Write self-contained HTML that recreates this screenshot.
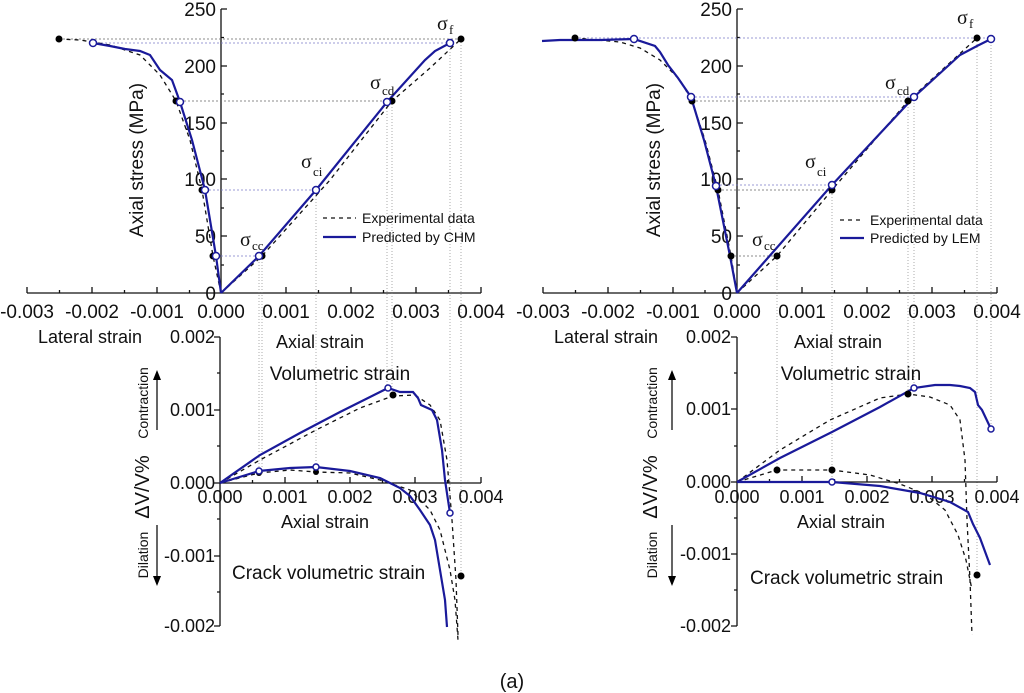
<!DOCTYPE html>
<html><head><meta charset="utf-8"><style>
html,body{margin:0;padding:0;background:#fff}
svg{display:block}
text{font-family:"Liberation Sans",sans-serif;fill:#111}
.t{font-size:18px}
.s{font-family:"Liberation Serif",serif;font-size:20px}
.sub{font-family:"Liberation Serif",serif;font-size:13px}
.ax{stroke:#111;stroke-width:1.3;fill:none}
.b{stroke:#1a1a9a;stroke-width:2.2;fill:none}
.d{stroke:#111;stroke-width:1.3;stroke-dasharray:4 4;fill:none}
.h{stroke:#666;stroke-width:0.8;stroke-dasharray:2 2;fill:none}
.hb{stroke:#7b7bc8;stroke-width:0.8;stroke-dasharray:2 2;fill:none}
.v{stroke:#888;stroke-width:0.7;stroke-dasharray:1 2;fill:none}
.o{fill:#fff;stroke:#1a1a9a;stroke-width:1.5}
.f{fill:#000}
</style></head><body>
<svg width="1024" height="693" viewBox="0 0 1024 693" xmlns="http://www.w3.org/2000/svg">
<!-- ===== LEFT TOP ===== -->
<g>
<line class="ax" x1="27" y1="293" x2="481" y2="293"/>
<line class="ax" x1="221" y1="9" x2="221" y2="293"/>
<path class="ax" d="M27 293v-6M59.5 293v-3M92 293v-6M124.5 293v-3M157 293v-6M189.5 293v-3M286 293v-6M318.5 293v-3M351 293v-6M383.5 293v-3M416 293v-6M448.5 293v-3M481 293v-6"/>
<path class="ax" d="M221 9h6M221 37.5h3M221 66h6M221 94h3M221 123h6M221 151h3M221 179h6M221 208h3M221 236h6M221 265h3"/>
<g class="t" text-anchor="end" style="font-size:19px">
<text x="216" y="16">250</text><text x="216" y="73">200</text><text x="216" y="130">150</text><text x="216" y="186">100</text><text x="216" y="243">50</text><text x="216" y="300">0</text>
</g>
<g class="t" text-anchor="middle" style="font-size:19px">
<text x="27" y="318">-0.003</text><text x="92" y="318">-0.002</text><text x="157" y="318">-0.001</text><text x="221" y="318">0.000</text><text x="286" y="318">0.001</text><text x="351" y="318">0.002</text><text x="416" y="318">0.003</text><text x="481" y="318">0.004</text>
</g>
<text class="t" x="143" y="160" text-anchor="middle" transform="rotate(-90 143 160)" style="font-size:19px">Axial stress (MPa)</text>
<text class="t" x="38" y="343">Lateral strain</text>
<text class="t" x="320" y="348" text-anchor="middle">Axial strain</text>
<line class="h" x1="59" y1="39" x2="461" y2="39"/>
<line class="hb" x1="93" y1="43" x2="450" y2="43"/>
<line class="h" x1="176" y1="101" x2="392" y2="101"/>
<line class="hb" x1="205" y1="190" x2="316" y2="190"/>
<line class="hb" x1="213" y1="256" x2="262" y2="256"/>
<line class="v" x1="259" y1="256" x2="259" y2="471"/>
<line class="v" x1="262" y1="256" x2="262" y2="473"/>
<line class="v" x1="316" y1="190" x2="316" y2="467"/>
<line class="v" x1="387" y1="102" x2="387" y2="388"/>
<line class="v" x1="392" y1="101" x2="392" y2="396"/>
<line class="v" x1="450" y1="43" x2="450" y2="513"/>
<line class="v" x1="461" y1="39" x2="461" y2="576"/>
<path class="d" d="M221 293L213 256L202 190L190 140L176 101L160 75L140 55L110 45L80 40L59 39"/>
<path class="d" d="M221 293L262 256L330 180L392 101L430 68L461 39"/>
<path class="b" d="M221 293L216 256L205 190L192 140L180 102L172 80L160 70L150 55L140 51L125 49L110 46L93 43"/>
<path class="b" d="M221 293L259 256L316 190L387 102L425 60L435 51L450 43"/>
<circle class="f" cx="59" cy="39" r="3.5"/><circle class="f" cx="176" cy="101" r="3.5"/><circle class="f" cx="202" cy="190" r="3.5"/><circle class="f" cx="213" cy="256" r="3.5"/>
<circle class="f" cx="262" cy="256" r="3.5"/><circle class="f" cx="392" cy="101" r="3.5"/><circle class="f" cx="461" cy="39" r="3.5"/>
<circle class="o" cx="93" cy="43" r="3.5"/><circle class="o" cx="180" cy="102" r="3.5"/><circle class="o" cx="205" cy="190" r="3.5"/><circle class="o" cx="216" cy="256" r="3.5"/>
<circle class="o" cx="259" cy="256" r="3.5"/><circle class="o" cx="316" cy="190" r="3.5"/><circle class="o" cx="387" cy="102" r="3.5"/><circle class="o" cx="450" cy="43" r="3.5"/>
<text class="s" x="437" y="30">σ</text><text class="sub" x="449" y="34">f</text>
<text class="s" x="370" y="89">σ</text><text class="sub" x="382" y="95">cd</text>
<text class="s" x="301" y="168">σ</text><text class="sub" x="313" y="176">ci</text>
<text class="s" x="240" y="246">σ</text><text class="sub" x="252" y="250">cc</text>
<line class="d" x1="323" y1="218" x2="356" y2="218"/>
<text class="t" x="362" y="223" style="font-size:14px">Experimental data</text>
<line class="b" x1="323" y1="237" x2="356" y2="237"/>
<text class="t" x="362" y="242" style="font-size:14px">Predicted by CHM</text>
</g>
<!-- ===== LEFT BOTTOM ===== -->
<g>
<line class="ax" x1="220" y1="337" x2="220" y2="626"/>
<line class="ax" x1="220" y1="483" x2="481" y2="483"/>
<path class="ax" d="M220 337h-6M220 373h-3M220 410h-6M220 446h-3M220 483h-6M220 519h-3M220 556h-6M220 592h-3M220 626h-6"/>
<path class="ax" d="M252.5 483v-3M285 483v-6M317.5 483v-3M350 483v-6M382.5 483v-3M415 483v-6M447.5 483v-3M481 483v-6"/>
<g class="t" text-anchor="end">
<text x="215" y="343">0.002</text><text x="215" y="416">0.001</text><text x="215" y="489">0.000</text><text x="215" y="562">-0.001</text><text x="215" y="632">-0.002</text>
</g>
<g class="t" text-anchor="middle">
<text x="220" y="503">0.000</text><text x="285" y="503">0.001</text><text x="350" y="503">0.002</text><text x="415" y="503">0.003</text><text x="481" y="503">0.004</text>
</g>
<text class="t" x="325" y="528" text-anchor="middle">Axial strain</text>
<text class="t" x="340" y="380" text-anchor="middle" style="font-size:19px">Volumetric strain</text>
<text class="t" x="232" y="579" style="font-size:19px">Crack volumetric strain</text>
<text class="t" x="149" y="487" text-anchor="middle" transform="rotate(-90 149 487)" style="font-size:20px">ΔV/V%</text>
<text class="t" x="148" y="403" text-anchor="middle" transform="rotate(-90 148 403)" style="font-size:14px">Contraction</text>
<text class="t" x="148" y="555" text-anchor="middle" transform="rotate(-90 148 555)" style="font-size:14px">Dilation</text>
<path class="ax" d="M157 430V378"/><path d="M153 380L157 370L161 380Z"/>
<path class="ax" d="M157 525V578"/><path d="M153 576L157 586L161 576Z"/>
<path class="d" d="M220 483L260 460L316 430L360 408L393 396L415 395L430 405L440 420L447 460L452 520L456 580L458 635"/>
<path class="b" d="M220 483L260 455L300 433L340 412L370 397L388 388L400 392L413 392L418 398L421 405L432 410L437 420L442 450L445 480L448 500L450 513"/>
<path class="d" d="M220 483L259 473L290 470L316 472L350 473L380 480L410 490L430 510L440 530L450 570L455 600L458 640"/>
<path class="b" d="M220 483L259 471L290 468L316 467L350 471L380 478L400 488L410 496L420 510L430 525L435 540L440 570L445 600L447 627"/>
<circle class="f" cx="393" cy="395" r="3.5"/><circle class="f" cx="461" cy="576" r="3.5"/><circle class="f" cx="316" cy="472" r="3"/><circle class="f" cx="259" cy="473" r="3"/>
<circle class="o" cx="388" cy="388" r="3"/><circle class="o" cx="450" cy="513" r="3"/><circle class="o" cx="259" cy="471" r="3"/><circle class="o" cx="316" cy="467" r="3"/>
</g>
<!-- ===== RIGHT TOP ===== -->
<g>
<line class="ax" x1="543" y1="293" x2="997" y2="293"/>
<line class="ax" x1="737" y1="9" x2="737" y2="293"/>
<path class="ax" d="M543 293v-6M575.5 293v-3M608 293v-6M640.5 293v-3M673 293v-6M705 293v-3M802 293v-6M834.5 293v-3M867 293v-6M899.5 293v-3M932 293v-6M964.5 293v-3M997 293v-6"/>
<path class="ax" d="M737 9h6M737 37.5h3M737 66h6M737 94h3M737 123h6M737 151h3M737 179h6M737 208h3M737 236h6M737 265h3"/>
<g class="t" text-anchor="end" style="font-size:19px">
<text x="732" y="16">250</text><text x="732" y="73">200</text><text x="732" y="130">150</text><text x="732" y="186">100</text><text x="732" y="243">50</text><text x="732" y="300">0</text>
</g>
<g class="t" text-anchor="middle" style="font-size:19px">
<text x="543" y="318">-0.003</text><text x="608" y="318">-0.002</text><text x="673" y="318">-0.001</text><text x="737" y="318">0.000</text><text x="802" y="318">0.001</text><text x="867" y="318">0.002</text><text x="932" y="318">0.003</text><text x="997" y="318">0.004</text>
</g>
<text class="t" x="660" y="160" text-anchor="middle" transform="rotate(-90 660 160)" style="font-size:19px">Axial stress (MPa)</text>
<text class="t" x="554" y="343">Lateral strain</text>
<text class="t" x="838" y="348" text-anchor="middle">Axial strain</text>
<line class="hb" x1="575" y1="38" x2="991" y2="38"/>
<line class="hb" x1="691" y1="97" x2="914" y2="97"/>
<line class="h" x1="692" y1="101" x2="908" y2="101"/>
<line class="hb" x1="716" y1="185" x2="832" y2="185"/>
<line class="h" x1="718" y1="190" x2="832" y2="190"/>
<line class="h" x1="731" y1="256" x2="777" y2="256"/>
<line class="v" x1="777" y1="256" x2="777" y2="470"/>
<line class="v" x1="832" y1="185" x2="832" y2="482"/>
<line class="v" x1="908" y1="101" x2="908" y2="394"/>
<line class="v" x1="914" y1="97" x2="914" y2="388"/>
<line class="v" x1="977" y1="38" x2="977" y2="575"/>
<line class="v" x1="991" y1="39" x2="991" y2="429"/>
<path class="d" d="M737 293L731 256L718 190L705 140L692 101L680 80L660 60L640 48L620 42L575 38"/>
<path class="d" d="M737 293L777 256L832 190L908 101L977 38"/>
<path class="b" d="M737 293L730 256L716 186L704 140L691 97L678 78L668 65L660 52L655 46L634 39L600 40L560 40L542 41"/>
<path class="b" d="M737 293L832 185L914 97L960 55L977 46L991 39"/>
<circle class="f" cx="575" cy="38" r="3.5"/><circle class="f" cx="692" cy="101" r="3.5"/><circle class="f" cx="718" cy="190" r="3.5"/><circle class="f" cx="731" cy="256" r="3.5"/>
<circle class="f" cx="777" cy="256" r="3.5"/><circle class="f" cx="832" cy="190" r="3.5"/><circle class="f" cx="908" cy="101" r="3.5"/><circle class="f" cx="977" cy="38" r="3.5"/>
<circle class="o" cx="634" cy="39" r="3.5"/><circle class="o" cx="691" cy="97" r="3.5"/><circle class="o" cx="716" cy="186" r="3.5"/>
<circle class="o" cx="832" cy="185" r="3.5"/><circle class="o" cx="914" cy="97" r="3.5"/><circle class="o" cx="991" cy="39" r="3.5"/>
<text class="s" x="957" y="24">σ</text><text class="sub" x="969" y="28">f</text>
<text class="s" x="885" y="89">σ</text><text class="sub" x="897" y="95">cd</text>
<text class="s" x="805" y="168">σ</text><text class="sub" x="817" y="176">ci</text>
<text class="s" x="752" y="246">σ</text><text class="sub" x="764" y="250">cc</text>
<line class="d" x1="840" y1="220" x2="860" y2="220"/>
<text class="t" x="870" y="225" style="font-size:14px">Experimental data</text>
<line class="b" x1="840" y1="238" x2="864" y2="238"/>
<text class="t" x="870" y="243" style="font-size:14px">Predicted by LEM</text>
</g>
<!-- ===== RIGHT BOTTOM ===== -->
<g>
<line class="ax" x1="737" y1="337" x2="737" y2="626"/>
<line class="ax" x1="737" y1="482" x2="997" y2="482"/>
<path class="ax" d="M737 337h-6M737 373h-3M737 409h-6M737 446h-3M737 482h-6M737 518h-3M737 554h-6M737 590h-3M737 626h-6"/>
<path class="ax" d="M769.5 482v-3M802 482v-6M834.5 482v-3M867 482v-6M899.5 482v-3M932 482v-6M964.5 482v-3M997 482v-6"/>
<g class="t" text-anchor="end">
<text x="731" y="343">0.002</text><text x="731" y="415">0.001</text><text x="731" y="488">0.000</text><text x="731" y="560">-0.001</text><text x="731" y="632">-0.002</text>
</g>
<g class="t" text-anchor="middle">
<text x="737" y="503">0.000</text><text x="802" y="503">0.001</text><text x="867" y="503">0.002</text><text x="932" y="503">0.003</text><text x="997" y="503">0.004</text>
</g>
<text class="t" x="841" y="528" text-anchor="middle">Axial strain</text>
<text class="t" x="851" y="380" text-anchor="middle" style="font-size:19px">Volumetric strain</text>
<text class="t" x="750" y="584" style="font-size:19px">Crack volumetric strain</text>
<text class="t" x="657" y="487" text-anchor="middle" transform="rotate(-90 657 487)" style="font-size:20px">ΔV/V%</text>
<text class="t" x="657" y="403" text-anchor="middle" transform="rotate(-90 657 403)" style="font-size:14px">Contraction</text>
<text class="t" x="657" y="555" text-anchor="middle" transform="rotate(-90 657 555)" style="font-size:14px">Dilation</text>
<path class="ax" d="M672 430V378"/><path d="M668 380L672 370L676 380Z"/>
<path class="ax" d="M672 525V578"/><path d="M668 576L672 586L676 576Z"/>
<path class="d" d="M737 482L780 450L830 420L880 398L908 394L930 397L950 405L960 420L965 460L967 520L970 580L972 635"/>
<path class="b" d="M737 482L780 458L832 432L880 407L914 388L935 385L950 385L960 386L970 388L975 392L978 405L982 410L991 429"/>
<path class="d" d="M737 482L777 470L832 470L870 475L900 484L925 494L945 510L958 535L966 560L972 590"/>
<path class="b" d="M737 482L832 482L880 486L920 493L950 502L968 512L973 524L980 538L990 565"/>
<circle class="f" cx="908" cy="394" r="3.5"/><circle class="f" cx="777" cy="470" r="3.5"/><circle class="f" cx="832" cy="470" r="3.5"/><circle class="f" cx="977" cy="575" r="3.5"/>
<circle class="o" cx="914" cy="388" r="3"/><circle class="o" cx="991" cy="429" r="3"/><circle class="o" cx="832" cy="482" r="3"/>
</g>
<text class="t" x="512" y="688" text-anchor="middle" style="font-size:20px">(a)</text>
</svg>
</body></html>
